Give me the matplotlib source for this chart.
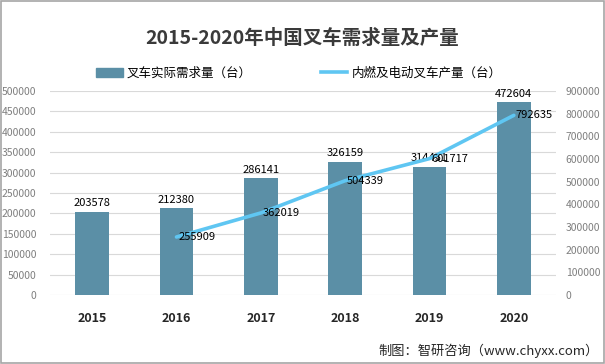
import matplotlib
matplotlib.use("Agg")
import matplotlib.pyplot as plt
import matplotlib.patches as mpatches
import matplotlib.lines as mlines
import numpy as np

plt.rcParams["font.family"] = ["Noto Sans CJK SC", "DejaVu Sans"]

years = ["2015", "2016", "2017", "2018", "2019", "2020"]
demand = [203578, 212380, 286141, 326159, 314451, 472604]
prod_years = ["2016", "2017", "2018", "2019", "2020"]
production = [255909, 362019, 504339, 601717, 792635]

BAR_COLOR = "#5b8fa6"
LINE_COLOR = "#5fc6f2"
TICK_COLOR = "#7f7f7f"

fig = plt.figure(figsize=(6.05, 3.64), dpi=100)
ax = fig.add_axes([50 / 605, 1 - 295 / 364, 506 / 605, 204 / 364])
ax2 = ax.twinx()

x = np.arange(len(years))
ax.bar(x, demand, width=0.4, color=BAR_COLOR, zorder=2)
for xi, v in zip(x, demand):
    ax.text(xi, v + 9000, str(v), ha="center", va="bottom", fontsize=8, color="black", zorder=5)

px = [years.index(y) for y in prod_years]
ax2.plot(px, production, color=LINE_COLOR, lw=2.6, solid_capstyle="round", zorder=3)
for xi, v in zip(px, production):
    ax2.text(xi + 0.02, v, str(v), ha="left", va="center", fontsize=8, color="black", zorder=5)

ax.set_xlim(-0.5, len(years) - 0.5)
ax.set_ylim(0, 500000)
ax.set_yticks(np.arange(0, 500001, 50000))
ax2.set_ylim(0, 900000)
ax2.set_yticks(np.arange(0, 900001, 100000))
ax.grid(axis="y", color="#d9d9d9", lw=0.8, zorder=0)
ax.set_axisbelow(True)

ax.set_xticks(x)
ax.set_xticklabels(years, fontsize=9, fontweight="bold", color="#262626")
ax.tick_params(axis="x", length=0, pad=12)
ax.tick_params(axis="y", length=0, labelsize=7.5, labelcolor=TICK_COLOR, pad=10)
ax2.tick_params(axis="y", length=0, labelsize=7.5, labelcolor=TICK_COLOR, pad=7)
for a in (ax, ax2):
    for s in a.spines.values():
        s.set_visible(False)

fig.text(0.5, 1 - 38 / 364, "2015-2020年中国叉车需求量及产量", ha="center", va="center",
         fontsize=14, fontweight="bold", color="#3a3a3a")

handles = [mpatches.Patch(color=BAR_COLOR, label="叉车实际需求量（台）"),
           mlines.Line2D([], [], color=LINE_COLOR, lw=2.6, label="内燃及电动叉车产量（台）")]
fig.legend(handles=handles, loc="center", bbox_to_anchor=(0.494, 1 - 73 / 364), ncol=2,
           frameon=False, fontsize=9, handlelength=2.1, handleheight=0.7,
           handletextpad=0.35, columnspacing=5.5)

fig.text(0.99, 1 - 351 / 364, "制图：智研咨询（www.chyxx.com）", ha="right", va="center",
         fontsize=9.5, color="#262626")

fig.patches.append(mpatches.Rectangle((0.001, 0.002), 0.997, 0.996, transform=fig.transFigure,
                                      fill=False, edgecolor="#a6a6a6", lw=1.2))

fig.savefig("out.png", dpi=100)
